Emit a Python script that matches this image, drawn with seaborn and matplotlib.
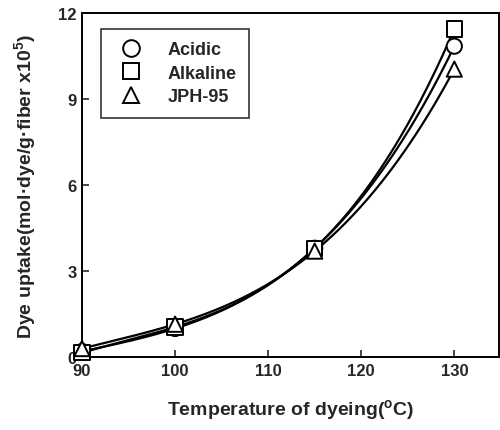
import numpy as np
import pandas as pd
import seaborn as sns
import matplotlib.pyplot as plt
from matplotlib.lines import Line2D

# data
temperature = [90, 100, 115, 130]
acidic = [0.20, 1.00, 3.80, 10.85]
alkaline = [0.15, 1.05, 3.80, 11.45]
jph95 = [0.30, 1.15, 3.70, 10.05]
series_names = ['Acidic', 'Alkaline', 'JPH-95']
series_markers = {'Acidic': 'o', 'Alkaline': 's', 'JPH-95': '^'}

sns.set_style('ticks')
plt.rcParams['font.family'] = ['Liberation Sans', 'DejaVu Sans']
plt.rcParams['font.weight'] = 'bold'
plt.rcParams['axes.labelweight'] = 'bold'
plt.rcParams['mathtext.fontset'] = 'custom'
plt.rcParams['mathtext.rm'] = 'Liberation Sans:bold'
plt.rcParams['mathtext.it'] = 'Liberation Sans:bold'

rows = []
for name, vals in zip(series_names, [acidic, alkaline, jph95]):
    for t, v in zip(temperature, vals):
        rows.append({'T': t, 'uptake': v, 'series': name})
df = pd.DataFrame(rows)

# smooth connecting curve through the measured points (cubic through 4 points)
curve_rows = []
tt = np.linspace(temperature[0], temperature[-1], 200)
for name, vals in zip(series_names, [acidic, alkaline, jph95]):
    coef = np.polyfit(temperature, vals, 3)
    for t, v in zip(tt, np.polyval(coef, tt)):
        curve_rows.append({'T': t, 'uptake': v, 'series': name})
curve_df = pd.DataFrame(curve_rows)

fig = plt.figure(figsize=(5.0, 4.31), dpi=100)
ax = fig.add_axes([0.164, 0.169, 0.834, 0.798])

sns.lineplot(data=curve_df, x='T', y='uptake', units='series', estimator=None,
             color='black', linewidth=1.6, ax=ax, legend=False, zorder=2)
sns.scatterplot(data=df, x='T', y='uptake', style='series', markers=series_markers,
                s=120, facecolor='white', edgecolor='black', linewidth=1.4,
                ax=ax, legend=False, zorder=3, clip_on=False)

ax.set_xlim(90, 134.8)
ax.set_ylim(0, 12)
ax.set_xticks([90, 100, 110, 120, 130])
ax.set_yticks([0, 3, 6, 9, 12])
ax.tick_params(direction='in', length=5, width=1.2, labelsize=12, pad=4)
for sp in ax.spines.values():
    sp.set_visible(True)
    sp.set_linewidth(1.4)
    sp.set_color('black')

ax.set_xlabel('Temperature of dyeing($^{\\rm o}$C)', fontsize=14, labelpad=14)
ax.set_ylabel('Dye uptake(mol·dye/g·fiber x10$^{5}$)', fontsize=14, labelpad=14)

handles = [Line2D([], [], linestyle='none', marker=series_markers[n], markersize=12,
                  markerfacecolor='white', markeredgecolor='black', markeredgewidth=1.4)
           for n in series_names]
leg = ax.legend(handles, series_names, loc='upper left', bbox_to_anchor=(0.045, 0.955),
                fontsize=13, frameon=True, fancybox=False, edgecolor='black',
                handletextpad=1.0, borderpad=0.7, labelspacing=0.35, borderaxespad=0)
leg.get_frame().set_linewidth(1.2)

plt.savefig('out.png', dpi=100)
